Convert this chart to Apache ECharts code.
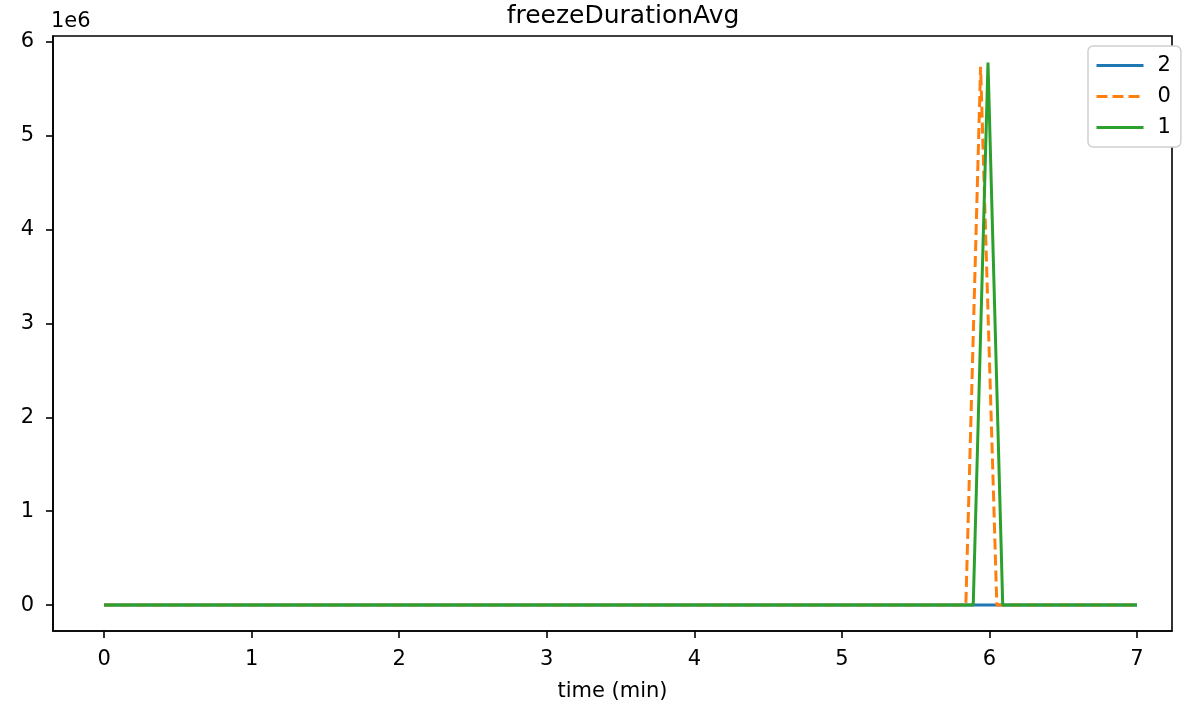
<!DOCTYPE html>
<html><head><meta charset="utf-8">
<script src="https://cdn.jsdelivr.net/npm/echarts@6/dist/echarts.min.js"></script>
<style>html,body{margin:0;padding:0;background:#fff}#c{width:1185px;height:707px}</style>
</head><body><div id="c"></div>
<script>
const seriesNames = ['2', '0', '1'];
const series2 = [[0, 0], [7.0, 0]];
const series0 = [[0, 0], [5.84, 0], [5.94, 5735000], [6.05, 0], [7.0, 0]];
const series1 = [[0, 0], [5.89, 0], [5.99, 5780000], [6.09, 0], [7.0, 0]];
const xTicks = [0, 1, 2, 3, 4, 5, 6, 7];
const yTicks = [0, 1e6, 2e6, 3e6, 4e6, 5e6, 6e6];
const colors = ['#1f77b4', '#ff7f0e', '#2ca02c'];

const chart = echarts.init(document.getElementById('c'), null, {renderer: 'canvas'});
const font = 'DejaVu Sans';
chart.setOption({
  animation: false,
  title: {text: 'freezeDurationAvg', left: 618, textAlign: 'center', top: -1,
    textStyle: {fontFamily: font, fontSize: 25, fontWeight: 'normal', color: '#000'}},
  grid: {left: 53, top: 36, width: 1119, height: 598, show: true, borderColor: '#000', borderWidth: 1.6, containLabel: false},
  legend: {
    data: seriesNames, orient: 'vertical', left: 1088, top: 46, padding: [9, 10, 9, 7],
    itemWidth: 47, itemHeight: 14, itemGap: 10,
    itemStyle: {opacity: 0},
    lineStyle: {width: 3},
    borderColor: '#d0d0d0', borderWidth: 1.5, borderRadius: 5, backgroundColor: '#fff',
    textStyle: {fontFamily: font, fontSize: 21, color: '#000', padding: [0, 0, 0, 9]}
  },
  xAxis: {
    type: 'value', min: -0.346, max: 7.237, name: 'time (min)', nameLocation: 'middle', nameGap: 50,
    nameTextStyle: {fontFamily: font, fontSize: 21, color: '#000'},
    splitLine: {show: false},
    axisLine: {show: true, onZero: false, lineStyle: {color: '#000', width: 1.6}},
    axisTick: {show: true, length: 7, lineStyle: {color: '#000', width: 1.6}, customValues: xTicks},
    axisLabel: {fontFamily: font, fontSize: 21, color: '#000', margin: 18, customValues: xTicks, formatter: v => String(Math.round(v))}
  },
  yAxis: {
    type: 'value', min: -276000, max: 6064000, name: '1e6', nameLocation: 'end', nameGap: 4,
    nameTextStyle: {fontFamily: font, fontSize: 21, color: '#000', align: 'left', padding: [0, 0, 0, -2]},
    splitLine: {show: false},
    axisLine: {show: true, onZero: false, lineStyle: {color: '#000', width: 1.6}},
    axisTick: {show: true, length: 7, lineStyle: {color: '#000', width: 1.6}, customValues: yTicks},
    axisLabel: {fontFamily: font, fontSize: 21, color: '#000', margin: 19, customValues: yTicks, formatter: v => String(Math.round(v / 1e6))}
  },
  series: [
    {name: seriesNames[0], type: 'line', data: series2, symbol: 'none', color: colors[0], lineStyle: {width: 3, color: colors[0]}},
    {name: seriesNames[1], type: 'line', data: series0, symbol: 'none', color: colors[1], lineStyle: {width: 3, color: colors[1], type: [11, 5]}},
    {name: seriesNames[2], type: 'line', data: series1, symbol: 'none', color: colors[2], lineStyle: {width: 3, color: colors[2]}}
  ]
});
</script></body></html>
